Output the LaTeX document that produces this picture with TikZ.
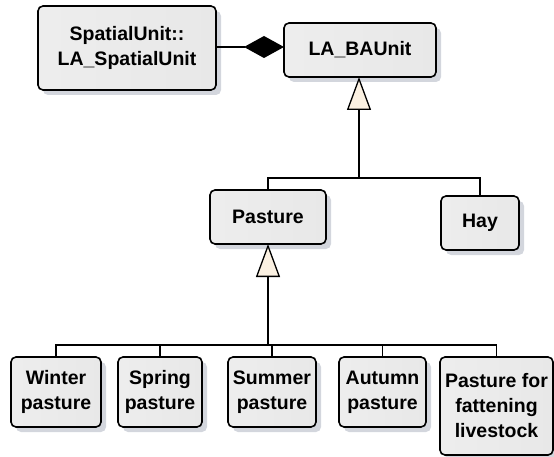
\documentclass[tikz,border=0pt]{standalone}
\usepackage{fontspec}
\setmainfont{Liberation Sans}
\usetikzlibrary{arrows.meta,shadows}
\definecolor{shadowgray}{HTML}{D3D6DD}
\definecolor{cream}{HTML}{FBF1E2}
\tikzset{
  umlbox/.style={draw, line width=1.6pt, rounded corners=5pt,
    left color=gray!14, middle color=white, right color=gray!18,
    drop shadow={shadow xshift=5pt, shadow yshift=-5pt, fill=shadowgray, opacity=1},
    font=\fontsize{19.5}{25}\selectfont\bfseries, align=center,
    inner sep=0pt, outer sep=0pt},
  link/.style={line width=1.3pt},
  generalize/.style={link, -{Triangle[open, fill=cream, length=33pt, width=24pt, line width=1.3pt]}},
  compose/.style={link, -{Diamond[length=40pt, width=22pt]}}
}
\begin{document}
\begin{tikzpicture}[x=1pt, y=-1pt]
\useasboundingbox (0,0) rectangle (554,457);

% classes
\node[umlbox, minimum width=178pt, minimum height=84pt] (su) at (127,48) {SpatialUnit::\\LA\_SpatialUnit};
\node[umlbox, minimum width=152pt, minimum height=54pt] (ba) at (360,50) {LA\_BAUnit};
\node[umlbox, minimum width=116pt, minimum height=54pt] (pasture) at (268,217) {Pasture};
\node[umlbox, minimum width=78pt, minimum height=54pt] (hay) at (480,223) {Hay};
\node[umlbox, minimum width=90pt, minimum height=70pt] (winter) at (56,392) {Winter\\pasture};
\node[umlbox, minimum width=84pt, minimum height=70pt] (spring) at (160,392) {Spring\\pasture};
\node[umlbox, minimum width=88pt, minimum height=70pt] (summer) at (272,392) {Summer\\pasture};
\node[umlbox, minimum width=87pt, minimum height=70pt] (autumn) at (382.5,392) {Autumn\\pasture};
\node[umlbox, minimum width=113pt, minimum height=98pt] (fatten) at (496.5,406) {Pasture for\\fattening\\livestock};

% junction points of the generalization trees
\coordinate (j1) at (359,178);
\coordinate (j2) at (268,345);

% composition
\draw[compose] (su.east |- 0,47) -- (ba.west |- 0,47);

% LA_BAUnit specializations
\draw[link] (pasture.north) |- (j1) -| (hay.north);
\draw[generalize] (j1) -- (j1 |- ba.south);

% Pasture specializations
\draw[link] (winter.north) |- (j2) -| (fatten.north);
\draw[link] (spring.north) -- (spring.north |- j2);
\draw[link] (summer.north) -- (summer.north |- j2);
\draw[link] (autumn.north) -- (autumn.north |- j2);
\draw[generalize] (j2) -- (pasture.south);
\end{tikzpicture}
\end{document}
